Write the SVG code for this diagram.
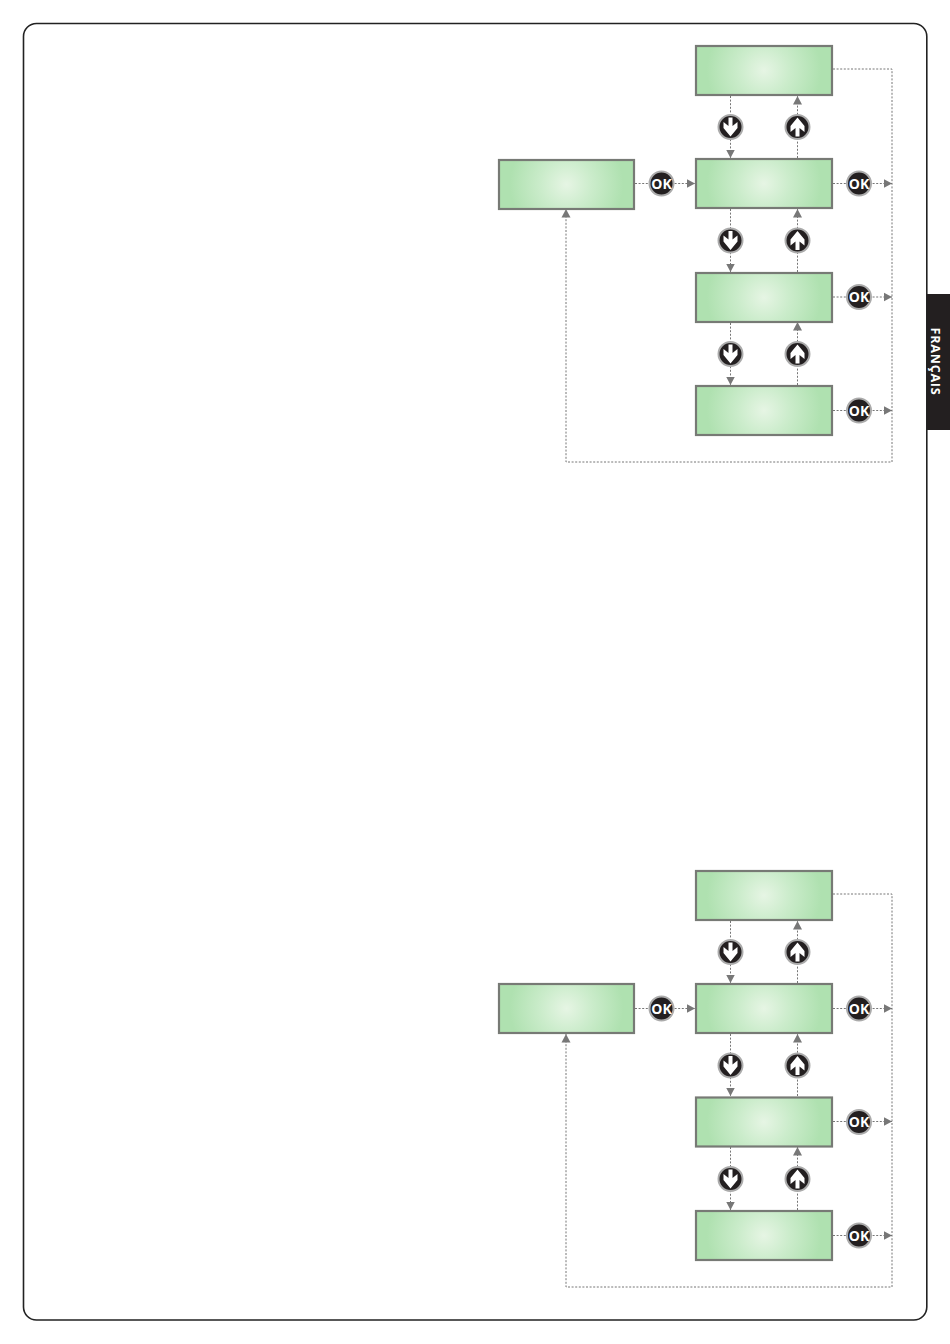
<svg xmlns="http://www.w3.org/2000/svg" width="950" height="1344" viewBox="0 0 950 1344">
<style>
.box{fill:url(#lcd);stroke:#777a75;stroke-width:2.2}
.c{fill:none;stroke:#666;stroke-width:0.9;stroke-dasharray:2 1.6}
.a{marker-end:url(#tip)}
.btn{fill:#231f20;stroke:#ababab;stroke-width:2}
.ok{font-family:"Open Sans","Liberation Sans",sans-serif;font-weight:700;font-size:14px;fill:#fff;text-anchor:middle}
.ar{fill:#fff}
</style>
<defs>
<radialGradient id="lcd" cx="0" cy="0" r="1" gradientTransform="translate(0.5 0.5) scale(0.42 1.15)">
<stop offset="0" stop-color="#e6f5e4"/><stop offset="0.45" stop-color="#cbeccb"/><stop offset="1" stop-color="#afe1b0"/>
</radialGradient>
<marker id="tip" markerUnits="userSpaceOnUse" markerWidth="10" markerHeight="10" refX="8.500" refY="5" orient="auto">
<path d="M0 0.5L8.500 5L0 9.500Z" fill="#777"/>
</marker>
</defs>
<rect id="frame" x="23.500" y="23.500" width="903.300" height="1296.500" rx="13" fill="#fff" stroke="#222" stroke-width="1.600"/>
<g id="tab"><rect x="927" y="294" width="23" height="136" fill="#231f20"/>
<text transform="translate(930.500 361.500) rotate(90)" font-family="Open Sans,Liberation Sans,sans-serif" font-weight="700" font-size="12.500" fill="#fff" text-anchor="middle" letter-spacing="0.800">FRANÇAIS</text></g>
<g id="connectors">
<g id="connectors-top">
<path class="c" d="M833 69H892V462H566V209" marker-end="url(#tip)"/>
<path class="c a" d="M730.500 96V158"/><path class="c a" d="M797.500 158V96"/>
<path class="c a" d="M730.500 209V272"/><path class="c a" d="M797.500 272V209"/>
<path class="c a" d="M730.500 323V385"/><path class="c a" d="M797.500 385V322"/>
<path class="c a" d="M635 183.500H695"/>
<path class="c a" d="M833 183.500H892"/><path class="c a" d="M833 297H892"/><path class="c a" d="M833 410.500H892"/>
</g>
<g id="connectors-bottom" transform="translate(0 825)">
<path class="c" d="M833 69H892V462H566V209" marker-end="url(#tip)"/>
<path class="c a" d="M730.500 96V158"/><path class="c a" d="M797.500 158V96"/>
<path class="c a" d="M730.500 209V271"/><path class="c a" d="M797.500 271V209"/>
<path class="c a" d="M730.500 322V385"/><path class="c a" d="M797.500 385V322"/>
<path class="c a" d="M635 183.500H695"/>
<path class="c a" d="M833 183.500H892"/><path class="c a" d="M833 296.500H892"/><path class="c a" d="M833 410.500H892"/>
</g>
</g>
<g id="n1"><rect class="box" x="696" y="46" width="136" height="49"/></g>
<g id="n2"><rect class="box" x="696" y="159" width="136" height="49"/></g>
<g id="n3"><rect class="box" x="696" y="273" width="136" height="49"/></g>
<g id="n4"><rect class="box" x="696" y="386" width="136" height="49"/></g>
<g id="n5"><rect class="box" x="499" y="160" width="135" height="49"/></g>
<g id="n6"><rect class="box" x="696" y="871" width="136" height="49"/></g>
<g id="n7"><rect class="box" x="696" y="984" width="136" height="49"/></g>
<g id="n8"><rect class="box" x="696" y="1097.500" width="136" height="49"/></g>
<g id="n9"><rect class="box" x="696" y="1211" width="136" height="49"/></g>
<g id="n10"><rect class="box" x="499" y="984" width="135" height="49"/></g>

<g id="ok1"><circle class="btn" cx="661.500" cy="183.500" r="12"/><text class="ok" x="661.500" y="188.500">OK</text></g>
<g id="ok2"><circle class="btn" cx="859" cy="183.500" r="12"/><text class="ok" x="859" y="188.500">OK</text></g>
<g id="ok3"><circle class="btn" cx="859" cy="297" r="12"/><text class="ok" x="859" y="302">OK</text></g>
<g id="ok4"><circle class="btn" cx="859" cy="410.500" r="12"/><text class="ok" x="859" y="415.500">OK</text></g>
<g id="ok5"><circle class="btn" cx="661.500" cy="1008.500" r="12"/><text class="ok" x="661.500" y="1013.500">OK</text></g>
<g id="ok6"><circle class="btn" cx="859" cy="1008.500" r="12"/><text class="ok" x="859" y="1013.500">OK</text></g>
<g id="ok7"><circle class="btn" cx="859" cy="1122" r="12"/><text class="ok" x="859" y="1127">OK</text></g>
<g id="ok8"><circle class="btn" cx="859" cy="1235.500" r="12"/><text class="ok" x="859" y="1240.500">OK</text></g>

<g id="down1" transform="translate(730.500 127)"><circle class="btn" r="12"/><path class="ar" d="M-2 -9.500H2V-1L7 -5V1L0 9.500L-7 1V-5L-2 -1Z"/></g>
<g id="down2" transform="translate(730.500 240.500)"><circle class="btn" r="12"/><path class="ar" d="M-2 -9.500H2V-1L7 -5V1L0 9.500L-7 1V-5L-2 -1Z"/></g>
<g id="down3" transform="translate(730.500 354)"><circle class="btn" r="12"/><path class="ar" d="M-2 -9.500H2V-1L7 -5V1L0 9.500L-7 1V-5L-2 -1Z"/></g>
<g id="down4" transform="translate(730.500 952)"><circle class="btn" r="12"/><path class="ar" d="M-2 -9.500H2V-1L7 -5V1L0 9.500L-7 1V-5L-2 -1Z"/></g>
<g id="down5" transform="translate(730.500 1065.500)"><circle class="btn" r="12"/><path class="ar" d="M-2 -9.500H2V-1L7 -5V1L0 9.500L-7 1V-5L-2 -1Z"/></g>
<g id="down6" transform="translate(730.500 1179)"><circle class="btn" r="12"/><path class="ar" d="M-2 -9.500H2V-1L7 -5V1L0 9.500L-7 1V-5L-2 -1Z"/></g>
<g id="up1" transform="translate(797.500 127)"><circle class="btn" r="12"/><path class="ar" d="M-2 9.500H2V1L7 5V-1L0 -9.500L-7 -1V5L-2 1Z"/></g>
<g id="up2" transform="translate(797.500 240.500)"><circle class="btn" r="12"/><path class="ar" d="M-2 9.500H2V1L7 5V-1L0 -9.500L-7 -1V5L-2 1Z"/></g>
<g id="up3" transform="translate(797.500 354)"><circle class="btn" r="12"/><path class="ar" d="M-2 9.500H2V1L7 5V-1L0 -9.500L-7 -1V5L-2 1Z"/></g>
<g id="up4" transform="translate(797.500 952)"><circle class="btn" r="12"/><path class="ar" d="M-2 9.500H2V1L7 5V-1L0 -9.500L-7 -1V5L-2 1Z"/></g>
<g id="up5" transform="translate(797.500 1065.500)"><circle class="btn" r="12"/><path class="ar" d="M-2 9.500H2V1L7 5V-1L0 -9.500L-7 -1V5L-2 1Z"/></g>
<g id="up6" transform="translate(797.500 1179)"><circle class="btn" r="12"/><path class="ar" d="M-2 9.500H2V1L7 5V-1L0 -9.500L-7 -1V5L-2 1Z"/></g>
</svg>
